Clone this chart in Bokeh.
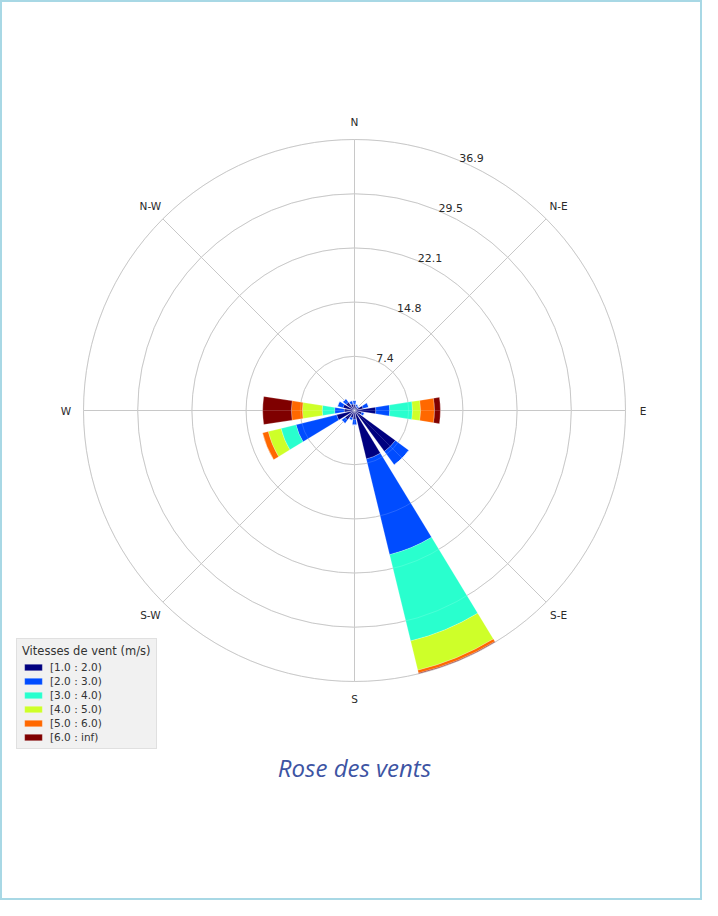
import numpy as np
from bokeh.plotting import figure
from bokeh.models import Range1d, Label
from bokeh.core.properties import value
from bokeh.embed import file_html
from bokeh.resources import INLINE

# ---------------- data ----------------
sectors = ["N", "NNE", "NE", "ENE", "E", "ESE", "SE", "SSE",
           "S", "SSW", "SW", "WSW", "W", "WNW", "NW", "NNW"]
sector_deg = [0.0, 22.5, 45.0, 67.5, 90.0, 112.5, 135.0, 157.5,
              180.0, 202.5, 225.0, 247.5, 270.0, 292.5, 315.0, 337.5]

bin_labels = ["[1.0 : 2.0)", "[2.0 : 3.0)", "[3.0 : 4.0)",
              "[4.0 : 5.0)", "[5.0 : 6.0)", "[6.0 : inf)"]
bin_colors = ["#00007f", "#004cff", "#29ffce", "#ceff29", "#ff6800", "#7f0000"]

freq_1_2 = [0.8, 0.6, 0.5, 1.2, 2.9, 1.0, 6.9, 6.8, 1.2, 1.0, 1.6, 2.5, 1.4, 1.6, 1.4, 0.9]
freq_2_3 = [0.6, 0.3, 0.3, 0.8, 1.9, 0.4, 2.3, 13.4, 0.8, 0.4, 0.6, 5.7, 1.3, 0.8, 0.6, 0.5]
freq_3_4 = [0.0, 0.0, 0.0, 0.0, 3.1, 0.0, 0.0, 12.1, 0.0, 0.0, 0.0, 2.1, 1.7, 0.0, 0.0, 0.0]
freq_4_5 = [0.0, 0.0, 0.0, 0.0, 1.1, 0.0, 0.0, 4.1, 0.0, 0.0, 0.0, 1.8, 2.7, 0.0, 0.0, 0.0]
freq_5_6 = [0.0, 0.0, 0.0, 0.0, 1.9, 0.0, 0.0, 0.4, 0.0, 0.0, 0.0, 0.8, 1.5, 0.0, 0.0, 0.0]
freq_6_inf = [0.0, 0.0, 0.0, 0.0, 0.8, 0.0, 0.0, 0.1, 0.0, 0.0, 0.0, 0.0, 3.9, 0.0, 0.0, 0.0]

ring_values = [7.38, 14.76, 22.14, 29.52, 36.9]
compass_labels = ["N", "N-E", "E", "S-E", "S", "S-W", "W", "N-W"]
compass_deg = [0, 45, 90, 135, 180, 225, 270, 315]

legend_title = "Vitesses de vent (m/s)"
chart_title = "Rose des vents"

# ---------------- layout ----------------
W, H = 702, 900
rmax = ring_values[-1]
PX = 271.0 / rmax            # pixels per data unit
cx, cy = 354.0, 410.0        # centre in figure pixels (from top-left)
x_range = Range1d(-cx / PX, (W - cx) / PX)
y_range = Range1d(-(H - cy) / PX, cy / PX)

p = figure(width=W, height=H, x_range=x_range, y_range=y_range,
           output_backend="svg", toolbar_location=None, min_border=0,
           x_axis_location=None, y_axis_location=None,
           background_fill_color="white", border_fill_color="white")
p.xgrid.visible = False
p.ygrid.visible = False
p.outline_line_color = "#a8d8e5"
p.outline_line_width = 3

grid_color = "#b8b8b8"

# polar grid (under bars)
p.circle(x=0, y=0, radius=ring_values, radius_units="data",
         fill_color=None, line_color=grid_color, line_width=0.9)
ang = np.radians(90.0 - np.array(compass_deg, dtype=float))
p.segment(x0=0, y0=0, x1=rmax * np.cos(ang), y1=rmax * np.sin(ang),
          line_color=grid_color, line_width=0.9)

# bars
opening = 17.6
theta = 90.0 - np.array(sector_deg)
start = np.radians(theta - opening / 2)
end = np.radians(theta + opening / 2)
series = [freq_1_2, freq_2_3, freq_3_4, freq_4_5, freq_5_6, freq_6_inf]
base = np.zeros(len(sectors))
for vals, col, lab in zip(series, bin_colors, bin_labels):
    v = np.array(vals)
    top = base + v
    p.annular_wedge(x=0, y=0, inner_radius=base, outer_radius=top,
                    start_angle=start, end_angle=end,
                    fill_color=col, line_color="white", line_width=0.4,
                    line_alpha=0.5, legend_label=lab)
    base = top

# faint grid over bars
p.circle(x=0, y=0, radius=ring_values, radius_units="data",
         fill_color=None, line_color="white", line_width=0.6, line_alpha=0.25)
p.segment(x0=0, y0=0, x1=rmax * np.cos(ang), y1=rmax * np.sin(ang),
          line_color="white", line_width=0.6, line_alpha=0.25)

# compass labels
R_lab = 39.3
p.text(x=R_lab * np.cos(ang), y=R_lab * np.sin(ang), text=compass_labels,
       text_font=value("DejaVu Sans"), text_font_size="10.5px",
       text_color="#2a2a2a", text_align="center", text_baseline="middle")

# ring labels
ra = np.radians(67.5)
rv = np.array(ring_values)
p.text(x=rv * np.cos(ra), y=rv * np.sin(ra),
       text=[f"{r:.1f}" for r in ring_values],
       text_font=value("DejaVu Sans"), text_font_size="11px",
       text_color="#2a2a2a", text_align="left", text_baseline="bottom",
       x_offset=1, y_offset=2)

# title
p.add_layout(Label(x=0, y=133, x_units="data", y_units="screen",
                   text=chart_title, text_font="Open Sans",
                   text_font_style="italic", text_font_size="24px",
                   text_color="#3d54a3", text_align="center",
                   text_baseline="middle"))

# legend
lg = p.legend[0]
lg.title = legend_title
lg.title_text_font = "DejaVu Sans"
lg.title_text_font_size = "11.5px"
lg.title_text_font_style = "normal"
lg.title_text_color = "#333333"
lg.title_standoff = 3
lg.label_text_font = "DejaVu Sans"
lg.label_text_font_size = "10.5px"
lg.label_text_color = "#333333"
lg.label_height = 12
lg.label_standoff = 6
lg.glyph_height = 8
lg.glyph_width = 22
lg.spacing = 2
lg.padding = 5
lg.margin = 0
lg.background_fill_color = "#f1f1f1"
lg.background_fill_alpha = 1.0
lg.border_line_color = "#d0d0d0"
lg.location = (16, 151)

open("out.html", "w").write(file_html(p, INLINE))
